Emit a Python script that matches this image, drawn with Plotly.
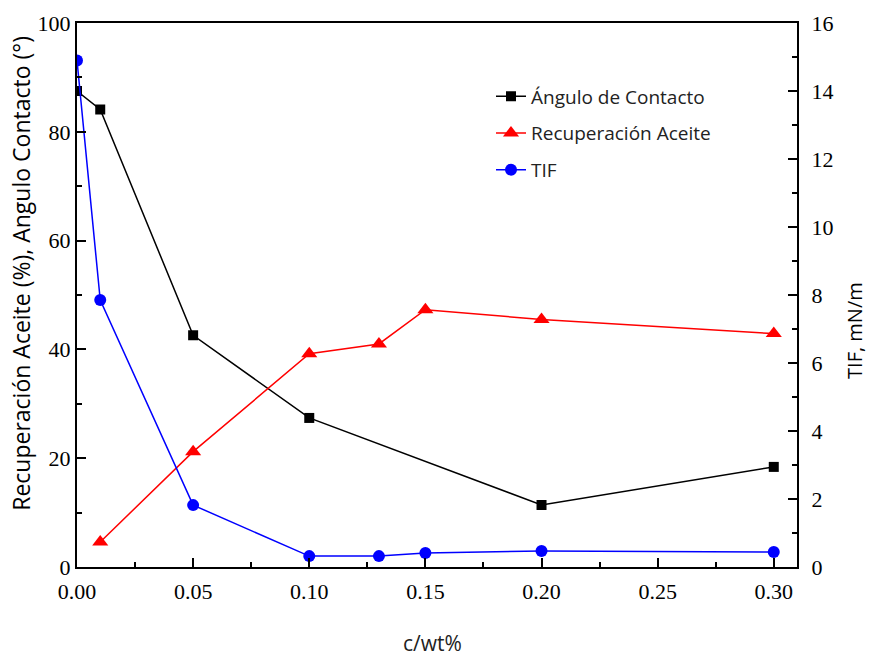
import plotly.graph_objects as go

conc_angle = [0.0, 0.01, 0.05, 0.10, 0.20, 0.30]
angle = [87.5, 84.1, 42.6, 27.4, 11.4, 18.4]

conc_rec = [0.01, 0.05, 0.10, 0.13, 0.15, 0.20, 0.30]
recovery = [4.6, 21.2, 39.2, 41.0, 47.3, 45.5, 42.9]

conc_tif = [0.0, 0.01, 0.05, 0.10, 0.13, 0.15, 0.20, 0.30]
tif = [14.9, 7.85, 1.82, 0.32, 0.32, 0.41, 0.47, 0.44]

x_ticks = [0.00, 0.05, 0.10, 0.15, 0.20, 0.25, 0.30]
x_ticklabels = ["0.00", "0.05", "0.10", "0.15", "0.20", "0.25", "0.30"]

fig = go.Figure()
fig.add_trace(go.Scatter(x=conc_angle, y=angle, mode="lines+markers", name="Ángulo de Contacto",
                         line=dict(color="black", width=1.5),
                         marker=dict(symbol="square", size=10, color="black"),
                         legendgroup="a"))
fig.add_trace(go.Scatter(x=conc_rec, y=recovery, mode="lines+markers", name="Recuperación Aceite",
                         line=dict(color="#ff0000", width=1.5),
                         marker=dict(symbol="triangle-up", size=14, color="#ff0000"),
                         legendgroup="b"))
fig.add_trace(go.Scatter(x=conc_tif, y=tif, mode="lines+markers", name="TIF", yaxis="y2",
                         line=dict(color="#0000ff", width=1.5),
                         marker=dict(symbol="circle", size=12, color="#0000ff"),
                         legendgroup="c"))

tickfont = dict(family="Liberation Serif, Times New Roman, serif", size=22, color="black")

fig.update_layout(
    width=870, height=658,
    margin=dict(l=77, r=73, t=23, b=91),
    paper_bgcolor="white", plot_bgcolor="white",
    showlegend=True,
    legend=dict(x=0.575, y=0.9, xanchor="left", yanchor="top",
                font=dict(family="Open Sans", size=19, color="#222"),
                bgcolor="rgba(0,0,0,0)", tracegroupgap=9, traceorder="grouped"),
    xaxis=dict(range=[0, 0.31], tickmode="array", tickvals=x_ticks, ticktext=x_ticklabels,
               ticks="inside", ticklen=9, tickwidth=1.5, tickcolor="black",
               minor=dict(ticks="inside", ticklen=5, dtick=0.025, tickwidth=1.5, tickcolor="black"),
               showline=True, linecolor="black", linewidth=2, mirror=True,
               showgrid=False, zeroline=False, tickfont=tickfont, ticklabelstandoff=4),
    yaxis=dict(range=[0, 100], dtick=20, ticks="inside", ticklen=9, tickwidth=1.5, tickcolor="black",
               minor=dict(ticks="inside", ticklen=5, dtick=10, tickwidth=1.5, tickcolor="black"),
               showline=True, linecolor="black", linewidth=2,
               showgrid=False, zeroline=False, tickfont=tickfont),
    yaxis2=dict(range=[0, 16], dtick=2, overlaying="y", side="right",
                ticks="inside", ticklen=9, tickwidth=1.5, tickcolor="black",
                minor=dict(ticks="inside", ticklen=5, dtick=1, tickwidth=1.5, tickcolor="black"),
                showline=True, linecolor="black", linewidth=2,
                showgrid=False, zeroline=False, tickfont=tickfont, ticklabelstandoff=8),
    annotations=[
        dict(text="Recuperación Aceite (%), Angulo Contacto (°)", xref="paper", yref="paper",
             x=-0.077, y=0.54, xanchor="center", yanchor="middle", textangle=-90, showarrow=False,
             font=dict(family="Open Sans", size=23, color="black")),
        dict(text="TIF, mN/m", xref="paper", yref="paper",
             x=1.08, y=0.435, xanchor="center", yanchor="middle", textangle=-90, showarrow=False,
             font=dict(family="Open Sans", size=20, color="black")),
        dict(text="c/wt%", xref="paper", yref="paper",
             x=0.494, y=-0.14, xanchor="center", yanchor="middle", showarrow=False,
             font=dict(family="Open Sans", size=21, color="#222")),
    ],
)

fig.write_html("out.html")
